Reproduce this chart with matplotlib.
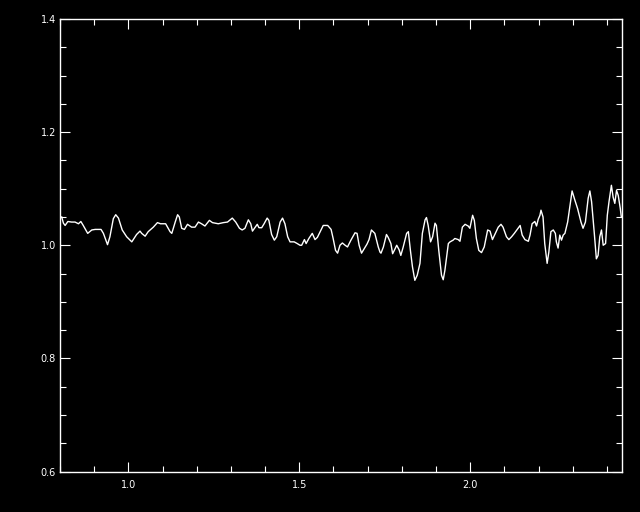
import matplotlib
matplotlib.use("Agg")
import matplotlib.pyplot as plt
from matplotlib.ticker import MultipleLocator, FixedLocator

wavelength = [0.805, 0.810, 0.815, 0.823, 0.834, 0.844, 0.854, 0.861, 0.868, 0.881,
              0.893, 0.903, 0.920, 0.927, 0.939, 0.946, 0.956, 0.963, 0.971, 0.982,
              0.995, 1.010, 1.024, 1.034, 1.039, 1.049, 1.058, 1.073, 1.085, 1.094,
              1.109, 1.122, 1.127, 1.137, 1.144, 1.149, 1.156, 1.164, 1.173, 1.185,
              1.195, 1.205, 1.214, 1.224, 1.237, 1.246, 1.263, 1.278, 1.290, 1.304,
              1.314, 1.325, 1.333, 1.341, 1.351, 1.358, 1.363, 1.370, 1.377, 1.382,
              1.390, 1.397, 1.406, 1.411, 1.419, 1.427, 1.434, 1.444, 1.451, 1.458,
              1.466, 1.473, 1.485, 1.494, 1.502, 1.507, 1.515, 1.520, 1.528, 1.538,
              1.546, 1.553, 1.561, 1.570, 1.583, 1.593, 1.599, 1.606, 1.612, 1.619,
              1.626, 1.634, 1.641, 1.651, 1.663, 1.669, 1.675, 1.682, 1.690, 1.698,
              1.704, 1.711, 1.721, 1.731, 1.736, 1.739, 1.746, 1.755, 1.760, 1.768,
              1.773, 1.778, 1.785, 1.792, 1.797, 1.804, 1.814, 1.819, 1.825, 1.831,
              1.838, 1.845, 1.853, 1.860, 1.868, 1.872, 1.877, 1.884, 1.890, 1.897,
              1.901, 1.908, 1.916, 1.921, 1.926, 1.931, 1.936, 1.941, 1.950, 1.955,
              1.965, 1.970, 1.977, 1.985, 1.994, 1.999, 2.007, 2.012, 2.018, 2.025,
              2.033, 2.041, 2.051, 2.058, 2.065, 2.072, 2.082, 2.090, 2.096, 2.106,
              2.113, 2.121, 2.129, 2.140, 2.146, 2.152, 2.160, 2.170, 2.175, 2.181,
              2.189, 2.194, 2.199, 2.204, 2.207, 2.213, 2.218, 2.225, 2.230, 2.236,
              2.243, 2.249, 2.252, 2.257, 2.262, 2.267, 2.272, 2.277, 2.285, 2.292,
              2.298, 2.306, 2.314, 2.324, 2.330, 2.337, 2.345, 2.350, 2.355, 2.363,
              2.369, 2.374, 2.379, 2.384, 2.389, 2.396, 2.401, 2.406, 2.413, 2.418,
              2.423, 2.428, 2.433, 2.439, 2.442]

ratio = [1.050, 1.039, 1.035, 1.042, 1.041, 1.041, 1.038, 1.042, 1.035, 1.021,
         1.027, 1.028, 1.028, 1.021, 1.001, 1.015, 1.047, 1.054, 1.048, 1.027,
         1.015, 1.006, 1.019, 1.025, 1.021, 1.016, 1.024, 1.032, 1.040, 1.038,
         1.038, 1.024, 1.021, 1.041, 1.054, 1.050, 1.030, 1.028, 1.037, 1.032,
         1.032, 1.041, 1.038, 1.034, 1.044, 1.040, 1.038, 1.040, 1.041, 1.048,
         1.041, 1.030, 1.027, 1.030, 1.045, 1.038, 1.025, 1.031, 1.037, 1.031,
         1.031, 1.038, 1.048, 1.044, 1.019, 1.009, 1.015, 1.041, 1.048, 1.038,
         1.015, 1.006, 1.006, 1.003, 1.000, 1.000, 1.010, 1.003, 1.012, 1.021,
         1.010, 1.014, 1.024, 1.035, 1.035, 1.028, 1.012, 0.991, 0.986, 1.000,
         1.004, 1.000, 0.997, 1.009, 1.022, 1.021, 1.000, 0.986, 0.994, 1.002,
         1.010, 1.027, 1.021, 0.997, 0.988, 0.986, 0.997, 1.019, 1.014, 1.003,
         0.985, 0.991, 1.000, 0.992, 0.982, 0.997, 1.021, 1.024, 0.991, 0.962,
         0.938, 0.947, 0.968, 1.021, 1.045, 1.049, 1.035, 1.006, 1.015, 1.039,
         1.035, 0.991, 0.947, 0.939, 0.956, 0.979, 1.003, 1.006, 1.009, 1.012,
         1.010, 1.007, 1.032, 1.037, 1.034, 1.030, 1.053, 1.044, 1.012, 0.991,
         0.987, 0.997, 1.027, 1.025, 1.010, 1.019, 1.032, 1.037, 1.032, 1.015,
         1.010, 1.015, 1.021, 1.030, 1.035, 1.018, 1.010, 1.007, 1.018, 1.038,
         1.042, 1.034, 1.046, 1.053, 1.062, 1.050, 1.003, 0.968, 0.988, 1.024,
         1.027, 1.021, 1.006, 0.995, 1.018, 1.009, 1.018, 1.021, 1.041, 1.071,
         1.096, 1.080, 1.065, 1.041, 1.030, 1.041, 1.083, 1.096, 1.077, 1.021,
         0.976, 0.982, 1.015, 1.027, 1.000, 1.003, 1.053, 1.077, 1.106, 1.085,
         1.074, 1.097, 1.088, 1.065, 1.050]

x_ticks = [1.0, 1.5, 2.0]
x_tick_labels = ["1.0", "1.5", "2.0"]
y_ticks = [0.6, 0.8, 1.0, 1.2, 1.4]
y_tick_labels = ["0.6", "0.8", "1.0", "1.2", "1.4"]

fig = plt.figure(figsize=(6.4, 5.12), dpi=100, facecolor="black")
ax = fig.add_axes([60 / 640, 1 - 471.5 / 512, (622 - 60) / 640, (471.5 - 19) / 512])
ax.set_facecolor("black")

ax.plot(wavelength, ratio, color="white", linewidth=1.0)

ax.set_xlim(0.8, 2.444)
ax.set_ylim(0.6, 1.4)

ax.xaxis.set_major_locator(FixedLocator(x_ticks))
ax.set_xticklabels(x_tick_labels)
ax.xaxis.set_minor_locator(MultipleLocator(0.1))
ax.yaxis.set_major_locator(FixedLocator(y_ticks))
ax.set_yticklabels(y_tick_labels)
ax.yaxis.set_minor_locator(MultipleLocator(0.05))

for s in ax.spines.values():
    s.set_color("white")
    s.set_linewidth(1.0)

ax.tick_params(which="both", direction="in", top=True, right=True, colors="white",
               labelsize=7, width=0.8)
ax.tick_params(which="major", length=7)
ax.tick_params(which="minor", length=4.5)
ax.tick_params(axis="x", which="major", pad=6)
ax.tick_params(axis="y", which="major", pad=3)

fig.savefig("out.png", dpi=100, facecolor="black")
